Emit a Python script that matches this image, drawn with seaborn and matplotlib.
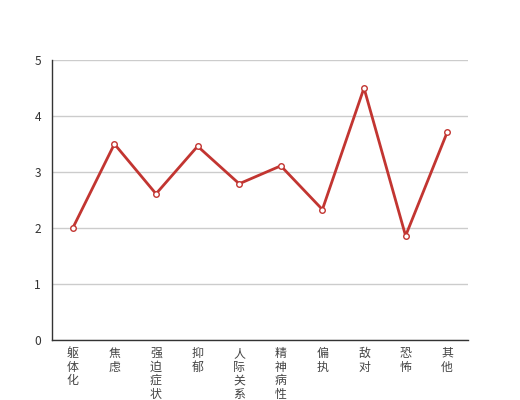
import pandas as pd
import matplotlib
matplotlib.use("Agg")
import matplotlib.pyplot as plt
import seaborn as sns

# data
categories = ["躯体化", "焦虑", "强迫症状", "抑郁", "人际关系敏感",
              "精神病性", "偏执", "敌对", "恐怖", "其他"]
scores = [2.0, 3.5, 2.61, 3.46, 2.79, 3.11, 2.33, 4.5, 1.86, 3.71]
y_ticks = [0, 1, 2, 3, 4, 5]

sns.set_style("white")
plt.rcParams["font.family"] = ["Noto Sans CJK SC", "DejaVu Sans"]

df = pd.DataFrame({"cat": categories, "score": scores})
df["pos"] = range(len(categories))

fig = plt.figure(figsize=(5.2, 4.0), dpi=100)
ax = fig.add_axes([0.1, 0.15, 0.8, 0.7])

sns.lineplot(data=df, x="pos", y="score", ax=ax, color="#c23531",
             linewidth=2, marker="o", markersize=4,
             markerfacecolor="white", markeredgecolor="#c23531",
             markeredgewidth=1, zorder=3)

ax.set_xlim(-0.5, len(categories) - 0.5)
ax.set_ylim(0, 5)
ax.set_yticks(y_ticks)
ax.yaxis.grid(True, color="#cccccc", linewidth=1)
ax.xaxis.grid(False)

# ticks on category boundaries, labels at centres (vertical text)
ax.set_xticks([i - 0.5 for i in range(len(categories) + 1)])
ax.set_xticklabels([])
ax.set_xticks(df["pos"], minor=True)
ax.set_xticklabels(["\n".join(c) for c in categories], minor=True,
                   fontsize=8.6, color="#444444", linespacing=1.06,
                   va="top")
ax.tick_params(axis="x", which="major", length=5, width=1,
               color="#333333", direction="out")
ax.tick_params(axis="x", which="minor", length=0, pad=5)
ax.tick_params(axis="y", length=5, width=1, color="#333333",
               labelcolor="#333333", labelsize=8.6, pad=3)

for side in ["top", "right"]:
    ax.spines[side].set_visible(False)
for side in ["left", "bottom"]:
    ax.spines[side].set_color("#333333")
    ax.spines[side].set_linewidth(1)

ax.set_xlabel("")
ax.set_ylabel("")

fig.savefig("out.png", dpi=100)
